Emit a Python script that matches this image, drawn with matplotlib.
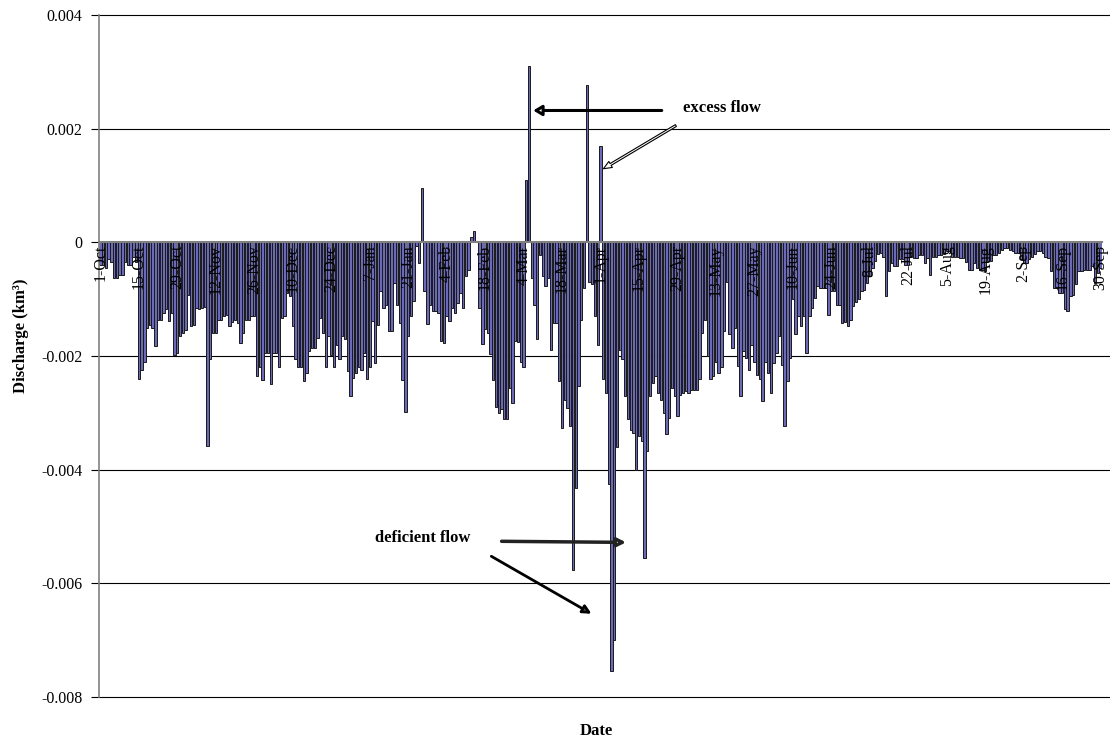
import numpy as np
import matplotlib.pyplot as plt

# daily discharge, 1-Oct .. 30-Sep (365 days), in units of 1e-4 km3
discharge_e4 = [
    -4, -4, -4.5, -3, -3.5, -6.3, -6.3, -5.8, -5.8, -3.5,
    -4, -4, -2.5, -3.5, -24, -22.5, -21, -15, -14.5, -15,
    -18.3, -13.6, -13.6, -12.4, -11.8, -13.9, -12.5, -19.8, -19.5, -16.5,
    -16, -15.4, -9.2, -14.8, -14.5, -11.5, -11.8, -11.5, -11.3, -35.9,
    -20.6, -16, -16, -13.6, -13.6, -13, -12.8, -14.8, -14, -13.6,
    -14.2, -17.7, -16, -13.6, -13.6, -13, -13, -23.6, -22, -24.2,
    -19.5, -19.5, -25, -19.5, -19.5, -22, -13.3, -13, -8.9, -9.5,
    -14.8, -20.6, -22, -22, -24.4, -23, -19.2, -18.6, -18.6, -16.8,
    -13.3, -16, -22, -16.5, -19.8, -22, -18, -20.6, -16.5, -17,
    -22.7, -27, -23.9, -23, -22, -22.4, -19.5, -24, -22, -13.9,
    -21.2, -14.5, -8.6, -11.5, -11, -15.6, -15.6, -7.2, -11, -14.2,
    -24.2, -29.9, -16.5, -13, -10.4, -0.7, -3.6, 9.5, -8.6, -14.3,
    -11, -12, -12, -12.4, -17.4, -17.7, -13, -13.9, -11.5, -12.4,
    -10.7, -8.9, -11.5, -6, -4.8, 1, 2, 0, -11.5, -17.9,
    -15.3, -16, -19.6, -24.2, -29, -30, -29.4, -31, -31, -25.6,
    -28.3, -17.4, -17.5, -21, -22, 11, 31, -6.3, -11, -17,
    -2.2, -6, -7.7, -6.3, -18.9, -14.2, -14.2, -24.4, -32.6, -27.7,
    -29.1, -32.4, -57.6, -43.2, -25.3, -13.6, -8, 27.6, -7, -7.4,
    -13, -18, 17, -24, -26.5, -42.6, -75.5, -70, -36, -19,
    -20.6, -27, -31, -33, -33.5, -40, -34, -35, -55.5, -36.7,
    -27, -24.7, -23.6, -26.5, -27.7, -30, -33.8, -30.9, -25.6, -27,
    -30.6, -26.8, -26.5, -26.2, -26.5, -26, -26, -26, -24, -16,
    -13.6, -20, -24, -23.6, -21, -23, -22, -15.6, -7, -16.2,
    -18.6, -15, -21.8, -27, -19.2, -20.3, -22.4, -18, -21, -23.3,
    -24, -28, -21, -23, -26.5, -21.2, -19.5, -16.5, -21.5, -32.4,
    -24.4, -20.3, -10, -16.2, -13, -14.8, -13, -19.5, -13, -11.5,
    -9.8, -7.7, -8, -8, -8, -12.7, -8.5, -8.5, -11, -11,
    -14.2, -14, -14.8, -13.6, -11.2, -10.5, -10, -8.6, -8.4, -7.2,
    -6, -4.5, -3.3, -2, -1.9, -2.5, -9.5, -5, -3.6, -4.2,
    -4.2, -3, -3, -4, -4, -2.5, -2.8, -2.8, -2.2, -2.2,
    -3.6, -2.8, -5.7, -2.5, -2.5, -2.2, -2.2, -2, -1.6, -1.6,
    -2.5, -2.5, -2.5, -2.8, -2.8, -3.5, -4.8, -4.8, -3.6, -4.5,
    -4.8, -4.8, -5.1, -3.3, -3.3, -2.2, -2.2, -1.8, -1.3, -1,
    -1, -1.3, -1.5, -1.9, -1.9, -3, -3.6, -3.6, -3, -2.5,
    -2, -1.6, -1.6, -1.9, -2.5, -2.8, -5, -8, -8, -8.9,
    -9, -11.8, -12.1, -9.5, -9.2, -7.4, -5.1, -5, -4.8, -4.8,
    -4.8, -4.2, -7.2, -5.4, -4.5,
]
assert len(discharge_e4) == 365
discharge = np.array(discharge_e4) * 1e-4
days = np.arange(len(discharge))

tick_days = list(range(0, 365, 14))
tick_labels = ['1-Oct', '15-Oct', '29-Oct', '12-Nov', '26-Nov', '10-Dec', '24-Dec',
               '7-Jan', '21-Jan', '4-Feb', '18-Feb', '4-Mar', '18-Mar', '1-Apr',
               '15-Apr', '29-Apr', '13-May', '27-May', '10-Jun', '24-Jun', '8-Jul',
               '22-Jul', '5-Aug', '19-Aug', '2-Sep', '16-Sep', '30-Sep']
y_ticks = [-0.008, -0.006, -0.004, -0.002, 0, 0.002, 0.004]
y_tick_labels = ['-0.008', '-0.006', '-0.004', '-0.002', '0', '0.002', '0.004']

plt.rcParams['font.family'] = ['Liberation Serif', 'DejaVu Serif']

fig = plt.figure(figsize=(11.1, 7.42), dpi=100)
ax = fig.add_axes([99 / 1110, 1 - 697 / 742, 1003 / 1110, 682 / 742])

# gridlines behind the bars (running to the right edge), tick labels above them
for yv in y_ticks:
    if yv != 0:
        ax.axhline(yv, xmax=1.01, color='black', linewidth=0.8, zorder=0.5, clip_on=False)

ax.bar(days, discharge, width=0.85, color='#6a6ab8', edgecolor='#1a1a1a',
       linewidth=0.7, zorder=2)

ax.set_xlim(-0.5, 364.5)
ax.set_ylim(-0.008, 0.004)
ax.set_yticks(y_ticks)
ax.set_yticklabels(y_tick_labels, fontsize=11.5)

ax.spines['top'].set_visible(False)
ax.spines['right'].set_visible(False)
ax.spines['bottom'].set_position(('data', 0))
ax.spines['bottom'].set_color('#808080')
ax.spines['bottom'].set_linewidth(1.5)
ax.spines['left'].set_color('#808080')
ax.spines['left'].set_linewidth(1.2)
ax.xaxis.set_zorder(4)
ax.spines['bottom'].set_zorder(3)

ax.set_xticks(tick_days)
ax.set_xticklabels(tick_labels, rotation=90, fontsize=11.5)
ax.set_xticks([d - 0.5 for d in tick_days], minor=True)
ax.tick_params(axis='x', which='major', length=0, pad=2)
ax.tick_params(axis='x', which='minor', length=4, color='#808080')
ax.tick_params(axis='y', length=6, color='black', pad=6)

ax.set_ylabel('Discharge (km³)', fontsize=12, fontweight='bold')
ax.yaxis.set_label_coords(-0.07, 0.53)
fig.text(596 / 1110, 1 - 731 / 742, 'Date', ha='center', va='center',
         fontsize=12, fontweight='bold')

# annotations
ax.text(212, 0.00236, 'excess flow', ha='left', va='center', fontsize=12, fontweight='bold')
ax.annotate('', xy=(156.5, 0.00232), xytext=(205.3, 0.00232),
            arrowprops=dict(arrowstyle='-|>,head_length=0.5,head_width=0.3',
                            fc='white', ec='black', lw=2.2))
ax.annotate('', xy=(182.2, 0.00127), xytext=(210.3, 0.00208),
            arrowprops=dict(arrowstyle='simple,head_length=0.6,head_width=0.5,tail_width=0.15',
                            fc='white', ec='black', lw=0.8))

ax.text(99.9, -0.00521, 'deficient flow', ha='left', va='center', fontsize=12, fontweight='bold')
ax.annotate('', xy=(192.3, -0.00528), xytext=(145, -0.00526),
            arrowprops=dict(arrowstyle='-|>,head_length=0.5,head_width=0.25',
                            fc='white', ec='#222222', lw=2.5))
ax.annotate('', xy=(179.6, -0.00656), xytext=(141.4, -0.0055),
            arrowprops=dict(arrowstyle='-|>,head_length=0.5,head_width=0.25',
                            fc='#555555', ec='black', lw=2))

fig.savefig('out.png', dpi=100)
